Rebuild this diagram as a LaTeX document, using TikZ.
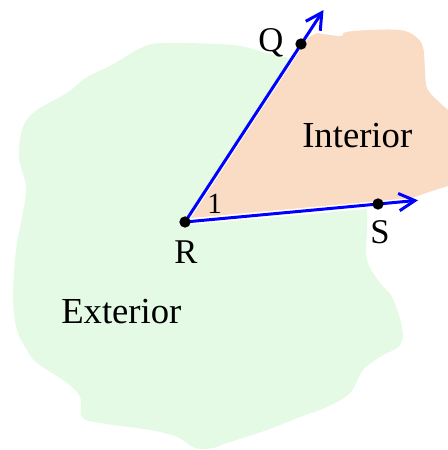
\documentclass[tikz,border=0pt]{standalone}
\usepackage{fontspec}
\setmainfont{Liberation Serif}
\usetikzlibrary{arrows.meta}
\definecolor{extgreen}{RGB}{229,250,229}
\definecolor{intpeach}{RGB}{250,220,196}
\begin{document}
\begin{tikzpicture}[x=0.75pt,y=-0.75pt,
  ray/.style={blue, line width=2.25pt, -{Straight Barb[length=12pt,width=13pt]}},
  dotpt/.style={circle, fill=black, inner sep=0pt, minimum size=8.5pt},
  lbl/.style={inner sep=0pt, font=\fontsize{26}{30}\selectfont},
  anglbl/.style={inner sep=0pt, font=\fontsize{22}{26}\selectfont},
  region/.style={inner sep=0pt, font=\fontsize{27.5}{32}\selectfont}]
\useasboundingbox (0,0) rectangle (448,450);
% exterior region
\fill[extgreen] (185,222) -- (292,58) -- plot[smooth, tension=0.6] coordinates {
  (283,57) (263,52) (233,45) (167,43) (143,47) (110,66) (87,77) (67,93)
  (37,110) (23,127) (19,157) (26,187) (22,217) (16,250) (13,297) (17,330)
  (27,350) (37,363) (67,383) (80,397) (82,417) (100,423) (150,430) (177,437)
  (195,448) (213,448) (227,443) (267,430) (300,417) (327,407) (350,393)
  (363,370) (380,357) (400,345) (402,327) (392,297) (380,283) (367,260)
  (367,230) (367,209)} -- (186,225) -- cycle;
% interior region
\fill[intpeach] (191,218) -- (309,37) -- plot[smooth, tension=0.6] coordinates {
  (317,33) (340,36) (346,32) (370,30) (400,30) (415,36) (423,47) (425,70)
  (427,88) (437,100) (448,110)} -- (448,186) -- (432,191) -- (412,198) -- cycle;
% points
\coordinate (R) at (185,222);
\coordinate (Q) at (301,44);
\coordinate (S) at (378,204);
\coordinate (Qend) at (323.5,10);
\coordinate (Send) at (418,200.3);
% rays
\draw[ray] (R) -- (Qend);
\draw[ray] (R) -- (Send);
\node[dotpt] (Rdot) at (R) {};
\node[dotpt] (Qdot) at (Q) {};
\node[dotpt] (Sdot) at (S) {};
% labels
\node[lbl, anchor=base west] (Qlbl) at (258,51) {Q};
\node[lbl, anchor=base west] (Rlbl) at (174,263) {R};
\node[lbl, anchor=base west] (Slbl) at (370,243) {S};
\node[anglbl, anchor=base west] (onelbl) at (207,213) {1};
\node[region, anchor=base west] (intlbl) at (302,147) {Interior};
\node[region, anchor=base west] (extlbl) at (61,323) {Exterior};
\end{tikzpicture}
\end{document}
